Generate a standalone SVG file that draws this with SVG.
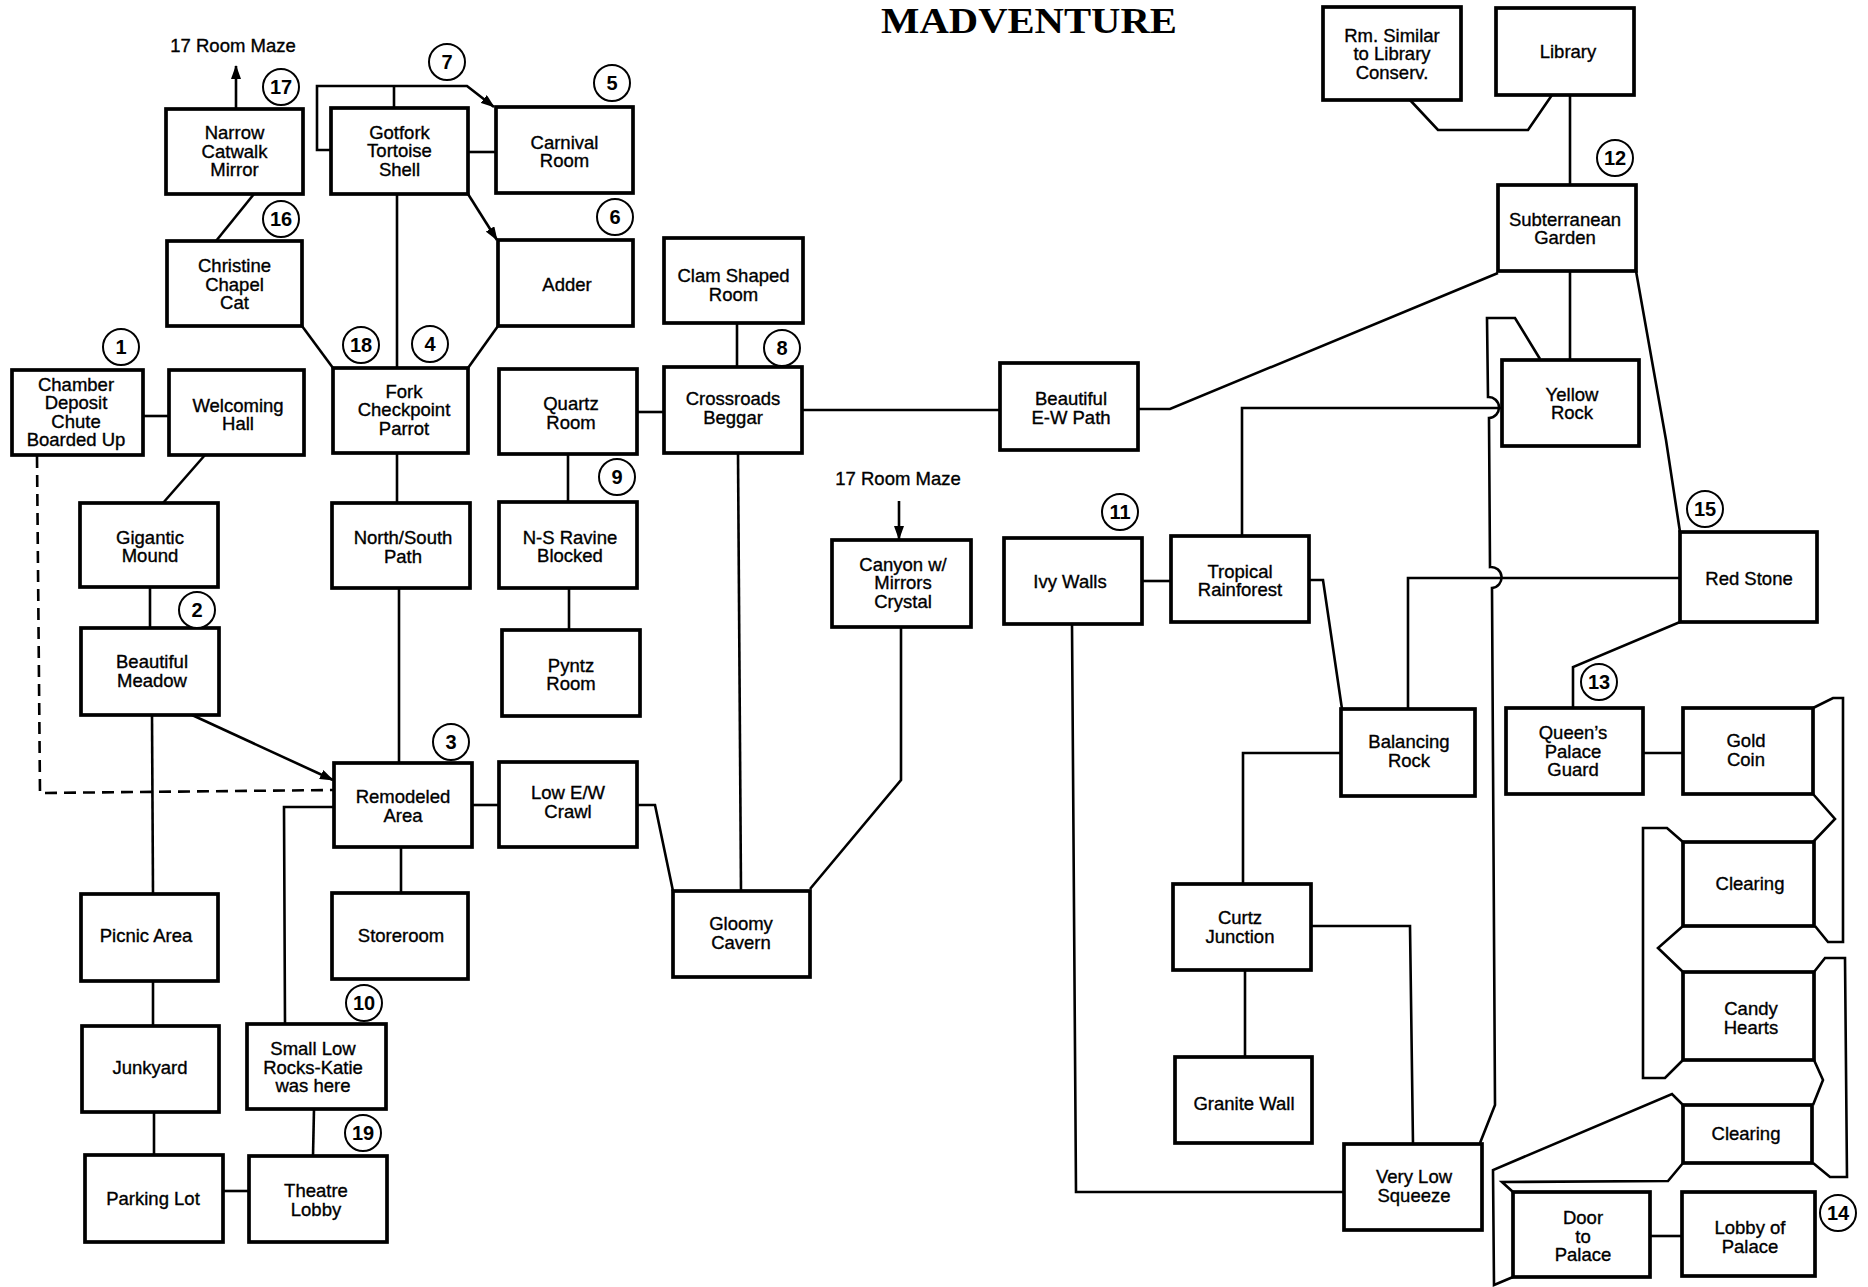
<svg xmlns="http://www.w3.org/2000/svg" width="1868" height="1287" viewBox="0 0 1868 1287">
<style>
.bg{fill:#fff}
.box rect{fill:#fff;stroke:#000;stroke-width:3.7}
.box text,.note{font-family:"Liberation Sans",Arial,sans-serif;font-size:18.5px;text-anchor:middle;fill:#000;stroke:#000;stroke-width:0.35}
.conn path{fill:none;stroke:#000;stroke-width:2.6;stroke-linejoin:miter}
.conn .dash{stroke-dasharray:12 7}
.num circle{fill:#fff;stroke:#000;stroke-width:2}
.num text{font-family:"Liberation Sans",Arial,sans-serif;font-weight:bold;font-size:20px;text-anchor:middle;fill:#000}
.title{font-family:"Liberation Serif","Times New Roman",serif;font-weight:bold;font-size:36px;text-anchor:middle;fill:#000}
</style>
<defs>
<marker id="arr" viewBox="0 0 14 10" refX="13" refY="5" markerWidth="14" markerHeight="10" orient="auto" markerUnits="userSpaceOnUse"><path d="M0,0 L14,5 L0,10 z" fill="#000"/></marker>
</defs>
<rect class="bg" x="0" y="0" width="1868" height="1287"/>
<text class="title" x="1029" y="33" textLength="296" lengthAdjust="spacingAndGlyphs">MADVENTURE</text>
<text class="note" x="233" y="52">17 Room Maze</text>
<text class="note" x="898" y="485">17 Room Maze</text>

<g id="connectors" class="conn">
<path d="M236,108 L236,66" marker-end="url(#arr)"/>
<path d="M254,194 L216,241"/>
<path d="M302,326 L333,368"/>
<path d="M331,150 L317,150 L317,86 L467,86 L494,107" marker-end="url(#arr)"/>
<path d="M394,86 L394,108"/>
<path d="M468,152 L496,152"/>
<path d="M468,194 L497,240" marker-end="url(#arr)"/>
<path d="M498,326 L468,368"/>
<path d="M397,194 L397,368"/>
<path d="M143,416 L169,416"/>
<path d="M205,455 L163,503"/>
<path d="M150,587 L150,628"/>
<path d="M192,715 L333,780" marker-end="url(#arr)"/>
<path d="M152,715 L153,894"/>
<path d="M153,981 L153,1026"/>
<path d="M154,1112 L154,1155"/>
<path d="M223,1191 L249,1191"/>
<path d="M314,1109 L313,1156"/>
<path d="M334,807 L284,807 L285,1024"/>
<path d="M401,847 L401,893"/>
<path d="M397,453 L397,503"/>
<path d="M399,588 L399,763"/>
<path class="dash" d="M37,456 L40,793 L334,790"/>
<path d="M472,805 L499,805"/>
<path d="M637,805 L655,805 L673,891"/>
<path d="M637,412 L664,412"/>
<path d="M568,454 L568,502"/>
<path d="M569,588 L569,630"/>
<path d="M737,323 L737,367"/>
<path d="M738,453 L741,891"/>
<path d="M802,410 L1000,410"/>
<path d="M899,501 L899,539" marker-end="url(#arr)"/>
<path d="M901,627 L901,780 L810,889"/>
<path d="M1138,409 L1170,409 L1498,273"/>
<path d="M1410,100 L1438,130 L1528,130 L1552,95"/>
<path d="M1570,95 L1570,185"/>
<path d="M1570,271 L1570,360"/>
<path d="M1636,271 L1666,440 L1680,532"/>
<path d="M1540,359 L1515,318 L1487,318 L1488,397 A10.5,10.5 0 0 1 1489,418 L1490,567 A10.5,10.5 0 0 1 1492,588 L1495,1105 L1480,1143"/>
<path d="M1242,536 L1242,408 L1502,408"/>
<path d="M1142,581 L1171,581"/>
<path d="M1309,580 L1323,580 L1342,709"/>
<path d="M1072,624 L1076,1192 L1344,1192"/>
<path d="M1341,753 L1243,753 L1243,884"/>
<path d="M1245,970 L1245,1057"/>
<path d="M1311,926 L1410,926 L1413,1144"/>
<path d="M1680,578 L1408,578 L1408,709"/>
<path d="M1680,622 L1573,667 L1573,708"/>
<path d="M1643,753 L1683,753"/>
<path d="M1650,1236 L1682,1236"/>
<path d="M1813,708 L1833,698 L1843,698 L1843,942 L1828,942 L1815,926"/>
<path d="M1813,794 L1835,819 L1813,842"/>
<path d="M1683,842 L1667,828 L1643,828 L1643,1078 L1665,1078 L1683,1060"/>
<path d="M1683,926 L1658,948 L1683,972"/>
<path d="M1814,972 L1825,958 L1845,958 L1847,1177 L1830,1177 L1813,1163"/>
<path d="M1814,1060 L1823,1080 L1813,1105"/>
<path d="M1683,1105 L1672,1094 L1493,1170 L1494,1285 L1513,1277"/>
<path d="M1683,1163 L1668,1181 L1502,1182 L1513,1192"/>
</g>

<g id="n-narrow" class="box"><rect x="166" y="109" width="137" height="85"/><text x="234.5" y="139"><tspan x="234.5">Narrow</tspan><tspan x="234.5" dy="18.5">Catwalk</tspan><tspan x="234.5" dy="18.5">Mirror</tspan></text></g>
<g id="n-gotfork" class="box"><rect x="331" y="108" width="137" height="86"/><text x="399.5" y="138.5"><tspan x="399.5">Gotfork</tspan><tspan x="399.5" dy="18.5">Tortoise</tspan><tspan x="399.5" dy="18.5">Shell</tspan></text></g>
<g id="n-carnival" class="box"><rect x="496" y="107" width="137" height="86"/><text x="564.5" y="148.5"><tspan x="564.5">Carnival</tspan><tspan x="564.5" dy="18.5">Room</tspan></text></g>
<g id="n-christine" class="box"><rect x="167" y="241" width="135" height="85"/><text x="234.5" y="272"><tspan x="234.5">Christine</tspan><tspan x="234.5" dy="18.5">Chapel</tspan><tspan x="234.5" dy="18.5">Cat</tspan></text></g>
<g id="n-adder" class="box"><rect x="498" y="240" width="135" height="86"/><text x="567" y="291">Adder</text></g>
<g id="n-clam" class="box"><rect x="664" y="238" width="139" height="85"/><text x="733.5" y="282"><tspan x="733.5">Clam Shaped</tspan><tspan x="733.5" dy="18.5">Room</tspan></text></g>
<g id="n-chamber" class="box"><rect x="12" y="370" width="131" height="85"/><text x="76" y="390.5"><tspan x="76">Chamber</tspan><tspan x="76" dy="18.5">Deposit</tspan><tspan x="76" dy="18.5">Chute</tspan><tspan x="76" dy="18.5">Boarded Up</tspan></text></g>
<g id="n-welcoming" class="box"><rect x="169" y="370" width="135" height="85"/><text x="238" y="411.5"><tspan x="238">Welcoming</tspan><tspan x="238" dy="18.5">Hall</tspan></text></g>
<g id="n-fork" class="box"><rect x="333" y="368" width="135" height="85"/><text x="404" y="397.5"><tspan x="404">Fork</tspan><tspan x="404" dy="18.5">Checkpoint</tspan><tspan x="404" dy="18.5">Parrot</tspan></text></g>
<g id="n-quartz" class="box"><rect x="499" y="369" width="138" height="85"/><text x="571" y="410"><tspan x="571">Quartz</tspan><tspan x="571" dy="18.5">Room</tspan></text></g>
<g id="n-crossroads" class="box"><rect x="664" y="367" width="138" height="86"/><text x="733" y="405"><tspan x="733">Crossroads</tspan><tspan x="733" dy="18.5">Beggar</tspan></text></g>
<g id="n-beautifulew" class="box"><rect x="1000" y="363" width="138" height="87"/><text x="1071" y="405"><tspan x="1071">Beautiful</tspan><tspan x="1071" dy="18.5">E-W Path</tspan></text></g>
<g id="n-rmsimilar" class="box"><rect x="1323" y="7" width="138" height="93"/><text x="1392" y="41.5"><tspan x="1392">Rm. Similar</tspan><tspan x="1392" dy="18.5">to Library</tspan><tspan x="1392" dy="18.5">Conserv.</tspan></text></g>
<g id="n-library" class="box"><rect x="1496" y="8" width="138" height="87"/><text x="1568" y="58">Library</text></g>
<g id="n-subterranean" class="box"><rect x="1498" y="185" width="138" height="86"/><text x="1565" y="225.5"><tspan x="1565">Subterranean</tspan><tspan x="1565" dy="18.5">Garden</tspan></text></g>
<g id="n-yellow" class="box"><rect x="1502" y="360" width="137" height="86"/><text x="1572" y="400.5"><tspan x="1572">Yellow</tspan><tspan x="1572" dy="18.5">Rock</tspan></text></g>
<g id="n-gigantic" class="box"><rect x="80" y="503" width="138" height="84"/><text x="150" y="543.5"><tspan x="150">Gigantic</tspan><tspan x="150" dy="18.5">Mound</tspan></text></g>
<g id="n-nspath" class="box"><rect x="332" y="503" width="138" height="85"/><text x="403" y="544"><tspan x="403">North/South</tspan><tspan x="403" dy="18.5">Path</tspan></text></g>
<g id="n-ravine" class="box"><rect x="499" y="502" width="138" height="86"/><text x="570" y="543.5"><tspan x="570">N-S Ravine</tspan><tspan x="570" dy="18.5">Blocked</tspan></text></g>
<g id="n-meadow" class="box"><rect x="81" y="628" width="138" height="87"/><text x="152" y="668"><tspan x="152">Beautiful</tspan><tspan x="152" dy="18.5">Meadow</tspan></text></g>
<g id="n-pyntz" class="box"><rect x="502" y="630" width="138" height="86"/><text x="571" y="671.5"><tspan x="571">Pyntz</tspan><tspan x="571" dy="18.5">Room</tspan></text></g>
<g id="n-canyon" class="box"><rect x="832" y="540" width="139" height="87"/><text x="903" y="570.5"><tspan x="903">Canyon w/</tspan><tspan x="903" dy="18.5">Mirrors</tspan><tspan x="903" dy="18.5">Crystal</tspan></text></g>
<g id="n-ivy" class="box"><rect x="1004" y="538" width="138" height="86"/><text x="1070" y="588">Ivy Walls</text></g>
<g id="n-tropical" class="box"><rect x="1171" y="536" width="138" height="86"/><text x="1240" y="577.5"><tspan x="1240">Tropical</tspan><tspan x="1240" dy="18.5">Rainforest</tspan></text></g>
<g id="n-redstone" class="box"><rect x="1680" y="532" width="137" height="90"/><text x="1749" y="585">Red Stone</text></g>
<g id="n-remodeled" class="box"><rect x="334" y="763" width="138" height="84"/><text x="403" y="803"><tspan x="403">Remodeled</tspan><tspan x="403" dy="18.5">Area</tspan></text></g>
<g id="n-lowew" class="box"><rect x="499" y="762" width="138" height="85"/><text x="568" y="799"><tspan x="568">Low E/W</tspan><tspan x="568" dy="18.5">Crawl</tspan></text></g>
<g id="n-balancing" class="box"><rect x="1341" y="709" width="134" height="87"/><text x="1409" y="748"><tspan x="1409">Balancing</tspan><tspan x="1409" dy="18.5">Rock</tspan></text></g>
<g id="n-queens" class="box"><rect x="1506" y="708" width="137" height="86"/><text x="1573" y="739"><tspan x="1573">Queen’s</tspan><tspan x="1573" dy="18.5">Palace</tspan><tspan x="1573" dy="18.5">Guard</tspan></text></g>
<g id="n-gold" class="box"><rect x="1683" y="708" width="130" height="86"/><text x="1746" y="747"><tspan x="1746">Gold</tspan><tspan x="1746" dy="18.5">Coin</tspan></text></g>
<g id="n-clearing1" class="box"><rect x="1683" y="842" width="131" height="84"/><text x="1750" y="890">Clearing</text></g>
<g id="n-picnic" class="box"><rect x="81" y="894" width="137" height="87"/><text x="146" y="942">Picnic Area</text></g>
<g id="n-storeroom" class="box"><rect x="332" y="893" width="136" height="86"/><text x="401" y="942">Storeroom</text></g>
<g id="n-gloomy" class="box"><rect x="673" y="891" width="137" height="86"/><text x="741" y="930"><tspan x="741">Gloomy</tspan><tspan x="741" dy="18.5">Cavern</tspan></text></g>
<g id="n-curtz" class="box"><rect x="1173" y="884" width="138" height="86"/><text x="1240" y="924"><tspan x="1240">Curtz</tspan><tspan x="1240" dy="18.5">Junction</tspan></text></g>
<g id="n-candy" class="box"><rect x="1683" y="972" width="131" height="88"/><text x="1751" y="1015"><tspan x="1751">Candy</tspan><tspan x="1751" dy="18.5">Hearts</tspan></text></g>
<g id="n-smalllow" class="box"><rect x="247" y="1024" width="139" height="85"/><text x="313" y="1055"><tspan x="313">Small Low</tspan><tspan x="313" dy="18.5">Rocks-Katie</tspan><tspan x="313" dy="18.5">was here</tspan></text></g>
<g id="n-junkyard" class="box"><rect x="82" y="1026" width="137" height="86"/><text x="150" y="1074">Junkyard</text></g>
<g id="n-granite" class="box"><rect x="1175" y="1057" width="137" height="86"/><text x="1244" y="1110">Granite Wall</text></g>
<g id="n-clearing2" class="box"><rect x="1683" y="1105" width="129" height="58"/><text x="1746" y="1140">Clearing</text></g>
<g id="n-verylow" class="box"><rect x="1344" y="1144" width="138" height="86"/><text x="1414" y="1183"><tspan x="1414">Very Low</tspan><tspan x="1414" dy="18.5">Squeeze</tspan></text></g>
<g id="n-parking" class="box"><rect x="85" y="1155" width="138" height="87"/><text x="153" y="1205">Parking Lot</text></g>
<g id="n-theatre" class="box"><rect x="249" y="1156" width="138" height="86"/><text x="316" y="1197"><tspan x="316">Theatre</tspan><tspan x="316" dy="18.5">Lobby</tspan></text></g>
<g id="n-door" class="box"><rect x="1513" y="1192" width="137" height="85"/><text x="1583" y="1224"><tspan x="1583">Door</tspan><tspan x="1583" dy="18.5">to</tspan><tspan x="1583" dy="18.5">Palace</tspan></text></g>
<g id="n-lobby" class="box"><rect x="1682" y="1192" width="133" height="84"/><text x="1750" y="1234"><tspan x="1750">Lobby of</tspan><tspan x="1750" dy="18.5">Palace</tspan></text></g>

<g id="markers" class="num">
<g id="c1"><circle cx="121" cy="347" r="18"/><text x="121" y="354">1</text></g>
<g id="c2"><circle cx="197" cy="610" r="18"/><text x="197" y="617">2</text></g>
<g id="c3"><circle cx="451" cy="742" r="18"/><text x="451" y="749">3</text></g>
<g id="c4"><circle cx="430" cy="344" r="18"/><text x="430" y="351">4</text></g>
<g id="c5"><circle cx="612" cy="83" r="18"/><text x="612" y="90">5</text></g>
<g id="c6"><circle cx="615" cy="217" r="18"/><text x="615" y="224">6</text></g>
<g id="c7"><circle cx="447" cy="62" r="18"/><text x="447" y="69">7</text></g>
<g id="c8"><circle cx="782" cy="348" r="18"/><text x="782" y="355">8</text></g>
<g id="c9"><circle cx="617" cy="477" r="18"/><text x="617" y="484">9</text></g>
<g id="c10"><circle cx="364" cy="1003" r="18"/><text x="364" y="1010">10</text></g>
<g id="c11"><circle cx="1120" cy="512" r="18"/><text x="1120" y="519">11</text></g>
<g id="c12"><circle cx="1615" cy="158" r="18"/><text x="1615" y="165">12</text></g>
<g id="c13"><circle cx="1599" cy="682" r="18"/><text x="1599" y="689">13</text></g>
<g id="c14"><circle cx="1838" cy="1213" r="18"/><text x="1838" y="1220">14</text></g>
<g id="c15"><circle cx="1705" cy="509" r="18"/><text x="1705" y="516">15</text></g>
<g id="c16"><circle cx="281" cy="219" r="18"/><text x="281" y="226">16</text></g>
<g id="c17"><circle cx="281" cy="87" r="18"/><text x="281" y="94">17</text></g>
<g id="c18"><circle cx="361" cy="345" r="18"/><text x="361" y="352">18</text></g>
<g id="c19"><circle cx="363" cy="1133" r="18"/><text x="363" y="1140">19</text></g>
</g>
</svg>
